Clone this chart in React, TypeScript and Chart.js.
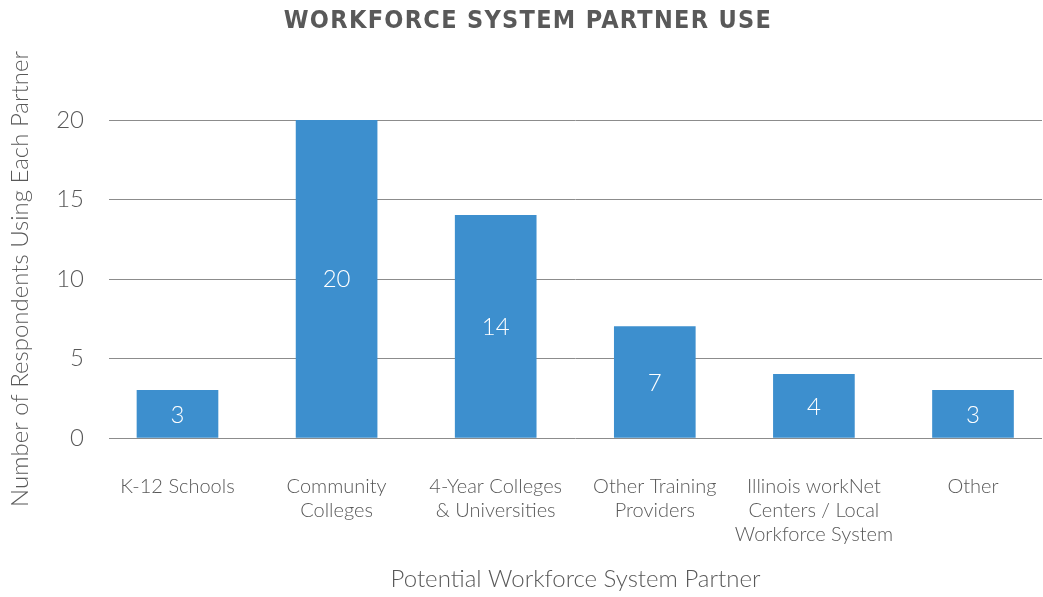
import React, { useEffect, useRef } from "react";
import { Chart, registerables } from "chart.js";

Chart.register(...registerables);

const TITLE = "WORKFORCE SYSTEM PARTNER USE";
const X_TITLE = "Potential Workforce System Partner";
const Y_TITLE = "Number of Respondents Using Each Partner";

const categories: (string | string[])[] = [
  "K-12 Schools",
  ["Community", "Colleges"],
  ["4-Year Colleges", "& Universities"],
  ["Other Training", "Providers"],
  ["Illinois workNet", "Centers / Local", "Workforce System"],
  "Other",
];
const respondents = [3, 20, 14, 7, 4, 3];
const yTickValues = [0, 5, 10, 15, 20];

const TEXT = "#595959";
const BAR = "#3d8fce";
const GRID = "#8c8c8c";
const FONT = "Lato, 'Open Sans', sans-serif";

const titlePlugin = {
  id: "customTitle",
  afterDraw(chart: any) {
    const ctx = chart.ctx as CanvasRenderingContext2D;
    ctx.save();
    ctx.font = "bold 25px 'DejaVu Sans Condensed', 'Liberation Sans Narrow', sans-serif";
    (ctx as any).letterSpacing = "1.3px";
    ctx.fillStyle = TEXT;
    ctx.textAlign = "center";
    ctx.textBaseline = "middle";
    ctx.fillText(TITLE, 528, 21);
    ctx.restore();
  },
};

const valueLabelPlugin = {
  id: "valueLabels",
  afterDatasetsDraw(chart: any) {
    const ctx = chart.ctx as CanvasRenderingContext2D;
    const meta = chart.getDatasetMeta(0);
    ctx.save();
    ctx.font = `300 24px ${FONT}`;
    ctx.fillStyle = "#ffffff";
    ctx.textAlign = "center";
    ctx.textBaseline = "middle";
    meta.data.forEach((bar: any, i: number) => {
      ctx.fillText(String(respondents[i]), bar.x, (bar.y + bar.base) / 2 + 1);
    });
    ctx.restore();
  },
};

export default function App() {
  const ref = useRef<HTMLCanvasElement | null>(null);

  useEffect(() => {
    if (!ref.current) return;
    const chart = new Chart(ref.current, {
      type: "bar",
      data: {
        datasets: [
          {
            data: respondents.map((v, i) => ({ x: i, y: v })),
            backgroundColor: BAR,
            borderWidth: 0,
            barThickness: 81,
          },
        ],
      },
      options: {
        responsive: false,
        animation: false,
        layout: { padding: { top: 120, right: 1, bottom: 3, left: 0 } },
        plugins: {
          legend: { display: false },
          tooltip: { enabled: false },
          title: { display: false },
        },
        scales: {
          x: {
            type: "linear",
            min: -0.4305,
            max: 5.4337,
            offset: false,
            bounds: "data",
            grid: { display: false, drawTicks: false, offset: false },
            border: { display: false },
            afterBuildTicks: (axis: any) => {
              axis.ticks = categories.map((_, i) => ({ value: i }));
            },
            afterFit: (axis: any) => {
              axis.height = 156;
            },
            ticks: {
              autoSkip: false,
              maxRotation: 0,
              minRotation: 0,
              padding: 37,
              color: TEXT,
              font: { family: FONT, size: 20, weight: "300", lineHeight: 1.2 },
              callback: (value: any) => categories[Math.round(Number(value))] as any,
            },
            title: {
              display: true,
              text: X_TITLE,
              color: TEXT,
              padding: 0,
              font: { family: FONT, size: 24, weight: "300", lineHeight: 1.2 },
            },
          },
          y: {
            type: "linear",
            min: 0,
            max: 20,
            grid: { color: GRID, lineWidth: 1, drawTicks: false },
            border: { display: false },
            afterBuildTicks: (axis: any) => {
              axis.ticks = yTickValues.map((v) => ({ value: v }));
            },
            afterFit: (axis: any) => {
              axis.width = 109;
            },
            ticks: {
              padding: 25,
              color: TEXT,
              font: { family: FONT, size: 24, weight: "300" },
            },
            title: {
              display: true,
              text: Y_TITLE,
              color: TEXT,
              padding: { top: 6, bottom: 0 },
              font: { family: FONT, size: 24, weight: "300", lineHeight: 1.2 },
            },
          },
        },
      },
      plugins: [titlePlugin, valueLabelPlugin],
    });
    return () => chart.destroy();
  }, []);

  return (
    <div style={{ position: "absolute", left: 0, top: 0, width: 1043, height: 597 }}>
      <canvas ref={ref} width={1043} height={597} style={{ display: "block" }} />
    </div>
  );
}
